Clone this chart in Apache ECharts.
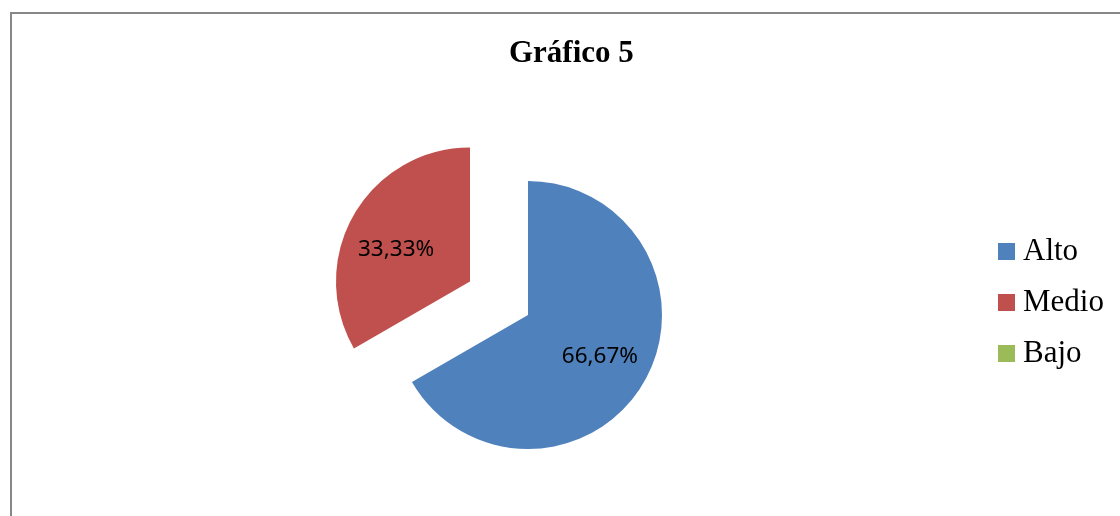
<!DOCTYPE html>
<html>
<head>
<meta charset="utf-8">
<script src="https://cdn.jsdelivr.net/npm/echarts@6/dist/echarts.min.js"></script>
<style>
  html, body { margin: 0; padding: 0; background: #fff; }
  #chart { width: 1120px; height: 516px; }
</style>
</head>
<body>
<div id="chart"></div>
<script>
// datos del gráfico
const categories = ['Alto', 'Medio', 'Bajo']
const values = [66.67, 33.33, 0]
const colors = ['#4F81BD', '#C0504D', '#9BBB59']
const explodedName = 'Medio'

const pieData = categories.map((name, i) => ({
  name: name,
  value: values[i],
  selected: name === explodedName,
  itemStyle: { color: colors[i] }
}))

// serie transparente solo para colocar las etiquetas más afuera
const labelData = categories.map((name, i) => ({
  name: name,
  value: values[i],
  selected: name === explodedName,
  label: name === explodedName ? { padding: [0, 4, 0, 0] } : {}
}))

function pct (p) {
  if (!(p.value > 0)) return ''
  const txt = p.value.toFixed(2).replace('.', ',') + '%'
  // línea vacía arriba para bajar un poco la etiqueta de Medio
  return p.name === explodedName ? '\n' + txt : txt
}

const chart = echarts.init(document.getElementById('chart'))
chart.setOption({
  animation: false,
  backgroundColor: '#fff',
  title: {
    text: 'Gráfico 5',
    left: 509,
    top: 38,
    padding: 0,
    textStyle: {
      fontFamily: 'Liberation Serif',
      fontWeight: 'bold',
      fontSize: 31,
      color: '#000'
    }
  },
  legend: {
    orient: 'vertical',
    left: 998,
    top: 236,
    padding: 0,
    icon: 'rect',
    itemWidth: 17,
    itemHeight: 17,
    itemGap: 20,
    data: categories,
    textStyle: {
      fontFamily: 'Liberation Serif',
      fontSize: 31,
      color: '#000',
      padding: [0, 0, 0, 3]
    }
  },
  graphic: [{
    type: 'rect',
    silent: true,
    shape: { x: 11, y: 13, width: 1200, height: 600 },
    style: { fill: 'none', stroke: '#878787', lineWidth: 2 }
  }],
  series: [{
    type: 'pie',
    center: [528, 315],
    radius: 134,
    startAngle: 90,
    clockwise: true,
    selectedMode: 'single',
    selectedOffset: 67,
    emphasis: { disabled: true },
    label: { show: false },
    labelLine: { show: false },
    data: pieData
  }, {
    type: 'pie',
    center: [528, 315],
    radius: [26, 134],
    startAngle: 90,
    clockwise: true,
    silent: true,
    selectedMode: 'single',
    selectedOffset: 67,
    emphasis: { disabled: true },
    itemStyle: { color: 'rgba(0,0,0,0)' },
    label: {
      show: true,
      position: 'inside',
      fontFamily: 'Noto Sans',
      fontSize: 22.5,
      lineHeight: 20,
      color: '#000',
      formatter: pct
    },
    labelLine: { show: false },
    data: labelData
  }]
})
</script>
</body>
</html>
